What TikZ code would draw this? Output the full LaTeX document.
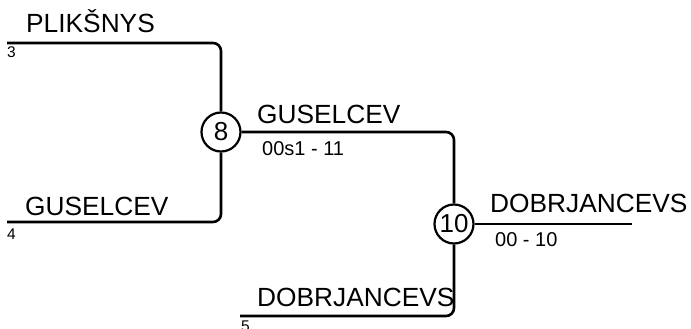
\documentclass[tikz,border=0pt]{standalone}
\usepackage{fontspec}
\setmainfont{Liberation Sans}
\begin{document}
\begin{tikzpicture}[x=1pt,y=-1pt,
  conn/.style={line width=2.6pt,rounded corners=8pt},
  matchc/.style={circle,draw,line width=2.2pt,minimum size=39pt,inner sep=0pt,font=\fontsize{26}{30}\selectfont},
  player/.style={anchor=base west,inner sep=0pt,font=\fontsize{26.3}{30}\selectfont},
  scoretxt/.style={anchor=base west,inner sep=0pt,font=\fontsize{20}{24}\selectfont},
  seedtxt/.style={anchor=base west,inner sep=0pt,font=\fontsize{15.5}{18}\selectfont}]
\useasboundingbox (0,0) rectangle (691,329);
\node[matchc] (m8) at (221,132) {8};
\node[matchc] (m10) at (454,224) {10};
\coordinate (s3) at (7,43);
\coordinate (s4) at (7,222);
\coordinate (s5) at (240,316);
\coordinate (w) at (632,224);
\draw[conn] (s3) -| (m8);
\draw[conn] (s4) -| (m8);
\draw[conn] (m8) -| (m10);
\draw[conn] (s5) -| (m10);
\draw[conn] (m10) -- (w);
\node[player] (n1) at (26,33) {PLIKŠNYS};
\node[seedtxt] (k3) at (7,58) {3};
\node[player] (n2) at (25,215) {GUSELCEV};
\node[seedtxt] (k4) at (7,239) {4};
\node[player] (n3) at (257,123) {GUSELCEV};
\node[scoretxt] (r1) at (262,155) {00s1 - 11};
\node[player] (n4) at (490,212) {DOBRJANCEVS};
\node[scoretxt] (r2) at (495,246) {00 - 10};
\node[player] (n5) at (257,306) {DOBRJANCEVS};
\node[seedtxt] (k5) at (241,331) {5};
\end{tikzpicture}
\end{document}
